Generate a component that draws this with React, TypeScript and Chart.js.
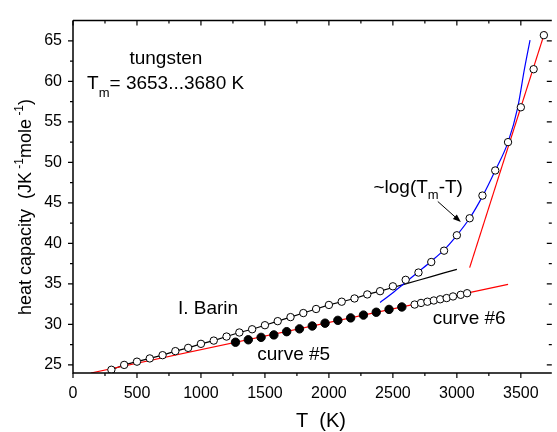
import React, { useEffect, useRef } from "react";
import { Chart, registerables } from "chart.js";

Chart.register(...registerables);

// ---- data ----
const barinT = [300, 400, 500, 600, 700, 800, 900, 1000, 1100, 1200, 1300, 1400, 1500, 1600, 1700, 1800, 1900, 2000, 2100, 2200, 2300, 2400, 2500, 2600, 2700, 2800, 2900, 3000, 3100, 3200, 3300, 3400, 3500, 3600, 3680];
const barinCp = [24.4, 25.0, 25.4, 25.8, 26.2, 26.7, 27.1, 27.6, 28.0, 28.5, 29.0, 29.4, 29.9, 30.4, 30.9, 31.4, 31.9, 32.4, 32.8, 33.2, 33.7, 34.1, 34.7, 35.5, 36.4, 37.7, 39.1, 41.0, 43.1, 45.9, 49.0, 52.5, 56.8, 61.5, 65.7];

const curve5T = [1270, 1370, 1470, 1570, 1670, 1770, 1870, 1970, 2070, 2170, 2270, 2370, 2470, 2570];
const curve5Cp = [27.8, 28.1, 28.4, 28.7, 29.1, 29.45, 29.8, 30.15, 30.5, 30.8, 31.15, 31.5, 31.85, 32.15];

const curve6T = [2670, 2720, 2770, 2820, 2870, 2920, 2970, 3030, 3080];
const curve6Cp = [32.45, 32.65, 32.8, 32.95, 33.1, 33.25, 33.45, 33.65, 33.85];

const barinFitT = [300, 400, 500, 600, 700, 800, 900, 1000, 1100, 1200, 1300, 1400, 1500, 1600, 1700, 1800, 1900, 2000, 2100, 2200, 2300, 2400, 2500, 2600, 2700, 2800, 2900, 3000];
const barinFitCp = [24.4, 25.0, 25.4, 25.8, 26.2, 26.7, 27.1, 27.6, 28.0, 28.5, 29.0, 29.4, 29.9, 30.4, 30.9, 31.4, 31.9, 32.4, 32.8, 33.2, 33.7, 34.1, 34.55, 35.0, 35.45, 35.9, 36.35, 36.8];

const logFitT = [2400, 2500, 2600, 2700, 2800, 2900, 3000, 3100, 3200, 3300, 3400, 3476, 3528, 3572];
const logFitCp = [32.7, 33.9, 35.2, 36.5, 37.8, 39.2, 41.0, 43.1, 45.8, 49.0, 52.5, 56.8, 61.5, 65.1];

const linFitT = [140, 3400];
const linFitCp = [24.0, 34.95];

const steepFitT = [3100, 3690];
const steepFitCp = [37.0, 66.2];

const xTicks = [0, 500, 1000, 1500, 2000, 2500, 3000, 3500];
const xMinorTicks = [250, 750, 1250, 1750, 2250, 2750, 3250];
const yTicks = [25, 30, 35, 40, 45, 50, 55, 60, 65];
const yMinorTicks = [27.5, 32.5, 37.5, 42.5, 47.5, 52.5, 57.5, 62.5];

const FONT = "'Liberation Sans', Arial, sans-serif";

const pts = (xs: number[], ys: number[]) => xs.map((x, i) => ({ x, y: ys[i] }));

const framePlugin = {
  id: "frame",
  afterDraw(chart: any) {
    const { ctx, chartArea: a, scales } = chart;
    const xs = scales.x;
    const ys = scales.y;
    ctx.save();
    ctx.strokeStyle = "#000";
    ctx.lineWidth = 1.5;
    ctx.beginPath();
    ctx.moveTo(a.left, a.top);
    ctx.lineTo(a.left, a.bottom);
    ctx.lineTo(a.right, a.bottom);
    ctx.moveTo(a.left, a.top);
    ctx.lineTo(a.right, a.top);
    ctx.stroke();
    ctx.lineWidth = 1.2;
    ctx.beginPath();
    const xt = (v: number, len: number) => {
      const p = xs.getPixelForValue(v);
      ctx.moveTo(p, a.bottom);
      ctx.lineTo(p, a.bottom + len);
      ctx.moveTo(p, a.top);
      ctx.lineTo(p, a.top + len);
    };
    const yt = (v: number, len: number) => {
      const p = ys.getPixelForValue(v);
      ctx.moveTo(a.left, p);
      ctx.lineTo(a.left - len, p);
      ctx.moveTo(a.right, p);
      ctx.lineTo(a.right - len, p);
    };
    xTicks.forEach((v) => xt(v, 5));
    xMinorTicks.forEach((v) => xt(v, 3));
    yTicks.forEach((v) => yt(v, 5));
    yMinorTicks.forEach((v) => yt(v, 3));
    ctx.stroke();

    // annotations
    ctx.fillStyle = "#000";
    ctx.textBaseline = "alphabetic";
    ctx.textAlign = "left";
    const X = (v: number) => xs.getPixelForValue(v);
    const Y = (v: number) => ys.getPixelForValue(v);
    const seq = (x0: number, y0: number, parts: [string, number, number][]) => {
      let x = x0;
      for (const [s, size, dy] of parts) {
        ctx.font = `${size}px ${FONT}`;
        ctx.fillText(s, x, y0 + dy);
        x += ctx.measureText(s).width;
      }
    };
    ctx.font = `19px ${FONT}`;
    ctx.fillText("tungsten", X(441), Y(62.1));
    seq(X(110), Y(59.0), [["T", 19, 0], ["m", 13, 8], ["= 3653...3680 K", 19, 0]]);
    seq(X(2348), Y(46.26), [["~log(T", 19, 0], ["m", 13, 6], ["-T)", 19, 0]]);
    ctx.font = `19px ${FONT}`;
    ctx.fillText("I. Barin", X(820), Y(31.32));
    ctx.fillText("curve #5", X(1440), Y(25.57));
    ctx.fillText("curve #6", X(2812), Y(30.06));

    // arrow
    const ax0 = X(2851), ay0 = Y(45.17), ax1 = X(3031), ay1 = Y(42.64);
    const ang = Math.atan2(ay1 - ay0, ax1 - ax0);
    ctx.lineWidth = 1;
    ctx.beginPath();
    ctx.moveTo(ax0, ay0);
    ctx.lineTo(ax1 - 6 * Math.cos(ang), ay1 - 6 * Math.sin(ang));
    ctx.stroke();
    ctx.beginPath();
    ctx.moveTo(ax1, ay1);
    ctx.lineTo(ax1 - 8 * Math.cos(ang) + 3 * Math.sin(ang), ay1 - 8 * Math.sin(ang) - 3 * Math.cos(ang));
    ctx.lineTo(ax1 - 8 * Math.cos(ang) - 3 * Math.sin(ang), ay1 - 8 * Math.sin(ang) + 3 * Math.cos(ang));
    ctx.closePath();
    ctx.fill();

    // x title
    ctx.font = `20px ${FONT}`;
    ctx.textAlign = "center";
    ctx.fillText("T  (K)", 321, 427);

    // y title (rotated, with superscripts)
    const parts: [string, number, number][] = [
      ["heat capacity  (JK", 18, 0],
      [" -1", 12, -8],
      ["mole", 18, 0],
      [" -1", 12, -8],
      [")", 18, 0],
    ];
    let total = 0;
    for (const [s, size] of parts) {
      ctx.font = `${size}px ${FONT}`;
      total += ctx.measureText(s).width;
    }
    ctx.translate(31, 207);
    ctx.rotate(-Math.PI / 2);
    ctx.textAlign = "left";
    seq(-total / 2, 0, parts);
    ctx.restore();
  },
};

export default function App() {
  const ref = useRef<HTMLCanvasElement | null>(null);
  useEffect(() => {
    document.body.style.margin = "0";
    if (!ref.current) return;
    const pointCommon = { showLine: false, pointStyle: "circle" as const, borderWidth: 1, pointHoverRadius: 4 };
    const lineCommon = { pointRadius: 0, pointHoverRadius: 0, borderWidth: 1.2, fill: false };
    const chart = new Chart(ref.current, {
      type: "scatter",
      data: {
        datasets: [
          { ...pointCommon, label: "Barin", data: pts(barinT, barinCp), pointRadius: 3.7, borderColor: "#000", backgroundColor: "#fff", order: 0 },
          { ...pointCommon, label: "curve #5", data: pts(curve5T, curve5Cp), pointRadius: 4.2, borderColor: "#000", backgroundColor: "#000", order: 0 },
          { ...pointCommon, label: "curve #6", data: pts(curve6T, curve6Cp), pointRadius: 3.7, borderColor: "#000", backgroundColor: "#fff", order: 0 },
          { ...lineCommon, type: "line" as any, label: "Barin fit", data: pts(barinFitT, barinFitCp), borderColor: "#000", showLine: true, order: 2 },
          { ...lineCommon, type: "line" as any, label: "log fit", data: pts(logFitT, logFitCp), borderColor: "#0000ff", showLine: true, cubicInterpolationMode: "monotone", order: 1 },
          { ...lineCommon, type: "line" as any, label: "linear fit", data: pts(linFitT, linFitCp), borderColor: "#ff0000", showLine: true, order: 1 },
          { ...lineCommon, type: "line" as any, label: "steep fit", data: pts(steepFitT, steepFitCp), borderColor: "#ff0000", showLine: true, order: 1 },
        ] as any,
      },
      options: {
        animation: false,
        responsive: true,
        maintainAspectRatio: false,
        layout: { padding: { top: 12, right: 0, bottom: 0, left: 0 } },
        plugins: { legend: { display: false }, tooltip: { enabled: false } },
        scales: {
          x: {
            type: "linear",
            min: 0,
            max: 3742,
            grid: { display: false, drawTicks: false },
            border: { display: false },
            afterBuildTicks: (s: any) => {
              s.ticks = xTicks.map((v) => ({ value: v }));
            },
            afterFit: (s: any) => {
              s.height = 59;
            },
            ticks: { color: "#000", font: { family: FONT, size: 16 }, padding: 11, maxRotation: 0, autoSkip: false, callback: (v: any) => String(v) },
          },
          y: {
            type: "linear",
            min: 24,
            max: 67.5,
            grid: { display: false, drawTicks: false },
            border: { display: false },
            afterBuildTicks: (s: any) => {
              s.ticks = yTicks.map((v) => ({ value: v }));
            },
            afterFit: (s: any) => {
              s.width = 73;
            },
            ticks: { color: "#000", font: { family: FONT, size: 16 }, padding: 11, autoSkip: false, callback: (v: any) => String(v) },
          },
        },
      },
      plugins: [framePlugin],
    });
    return () => chart.destroy();
  }, []);
  return (
    <div style={{ width: 557, height: 432, position: "relative", background: "#fff" }}>
      <canvas ref={ref} />
    </div>
  );
}
